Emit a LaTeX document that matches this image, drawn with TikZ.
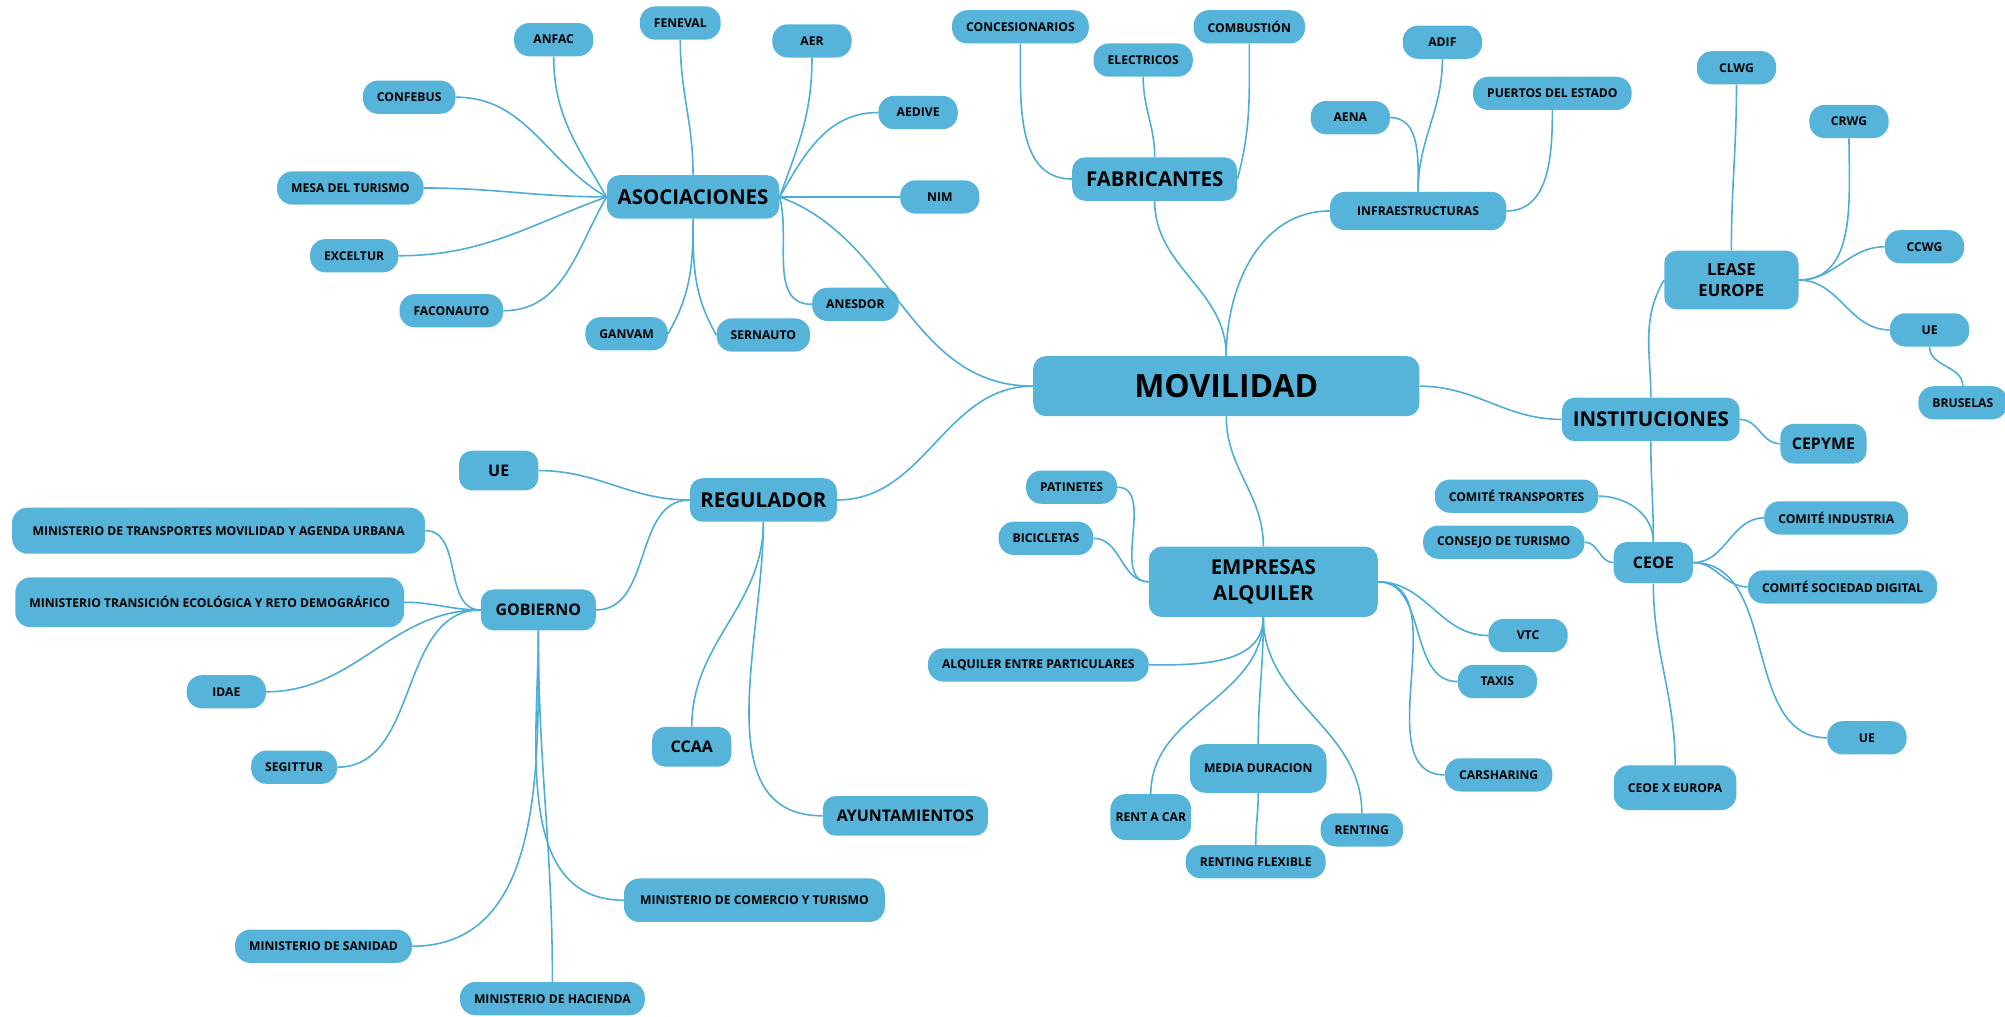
\documentclass[tikz,border=0pt]{standalone}
\usepackage{fontspec}
\setmainfont{Open Sans}
\usetikzlibrary{positioning}
\definecolor{mmfill}{RGB}{86,180,218}
\definecolor{mmline}{RGB}{78,173,214}
\tikzset{
  box/.style = {fill=mmfill, text=black, align=center, inner ysep=0, rounded corners=10},
  hub/.style = {box, font=\fontsize{25}{28}\selectfont\bfseries, minimum width=302, minimum height=47},
  branch/.style = {box, font=\fontsize{16}{20}\selectfont\bfseries, minimum height=34, inner xsep=8},
  sub/.style = {box, font=\fontsize{12.5}{16}\selectfont\bfseries, minimum height=31, minimum width=62, inner xsep=9},
  leaf/.style = {box, font=\fontsize{9.5}{11}\selectfont\bfseries, minimum height=26, minimum width=62, inner xsep=11, rounded corners=12},
  link/.style = {draw=mmline, line width=1.25}
}

\begin{document}
\begin{tikzpicture}[x=1pt, y=1pt]
  \useasboundingbox (0,0) rectangle (1568,-794.6);

  \node [hub] (movilidad) at (959,-302) {MOVILIDAD};
  \node [branch, minimum width=135] (asoc) at (542,-154) {ASOCIACIONES};
  \node [branch, minimum width=129] (fab) at (903,-140) {FABRICANTES};
  \node [leaf, minimum width=138, minimum height=30] (infra) at (1109,-165) {INFRAESTRUCTURAS};
  \node [branch, minimum width=139] (inst) at (1291,-328) {INSTITUCIONES};
  \node [branch, minimum width=115] (reg) at (597,-391) {REGULADOR};
  \node [branch, minimum width=179, minimum height=55] (emp) at (988,-455) {EMPRESAS\\ALQUILER};
  \node [sub, font=\fontsize{13}{16}\selectfont\bfseries, minimum width=105, minimum height=46] (lease) at (1354,-219) {LEASE\\EUROPE};
  \node [sub, minimum width=66] (cepyme) at (1426,-347) {CEPYME};
  \node [sub, minimum height=32] (ceoe) at (1293,-440) {CEOE};
  \node [sub] (ue1) at (390,-368) {UE};
  \node [sub, minimum width=90, minimum height=32] (gob) at (421,-477) {GOBIERNO};
  \node [sub] (ccaa) at (541,-584) {CCAA};
  \node [sub, minimum width=129] (ayunt) at (708,-638) {AYUNTAMIENTOS};

  \foreach \n/\x/\y/\t in {anfac/433/-31/ANFAC, feneval/532/-18/FENEVAL, aer/635/-32/AER,
      confebus/320/-76/CONFEBUS, aedive/718/-88/AEDIVE, mesa/274/-147/MESA DEL TURISMO,
      nim/735/-154/NIM, exceltur/277/-200/EXCELTUR, faconauto/353/-243/FACONAUTO,
      anesdor/669/-238/ANESDOR, ganvam/490/-261/GANVAM, sernauto/597/-262/SERNAUTO,
      conces/798/-21/CONCESIONARIOS, elec/894/-47/ELECTRICOS, comb/977/-21/COMBUSTIÓN,
      adif/1128/-33/ADIF, aena/1056/-92/AENA, puertos/1214/-73/PUERTOS DEL ESTADO,
      clwg/1358/-53/CLWG, crwg/1446/-95/CRWG, ccwg/1505/-193/CCWG, ue2/1509/-258/UE,
      bruselas/1535/-315/BRUSELAS,
      ctrans/1186/-388/COMITÉ TRANSPORTES, cturis/1176/-424/CONSEJO DE TURISMO,
      cind/1436/-405/COMITÉ INDUSTRIA, csoc/1441/-459/COMITÉ SOCIEDAD DIGITAL, ue3/1460/-577/UE,
      patin/838/-381/PATINETES, bici/818/-421/BICICLETAS, partic/812/-520/ALQUILER ENTRE PARTICULARES,
      vtc/1195/-497/VTC, taxis/1171/-533/TAXIS, carsh/1172/-606/CARSHARING,
      renting/1065/-649/RENTING, rflex/982/-674/RENTING FLEXIBLE,
      idae/177/-541/IDAE, segittur/230/-600/SEGITTUR, sanidad/253/-740/MINISTERIO DE SANIDAD,
      hacienda/432/-781/MINISTERIO DE HACIENDA} {
    \node [leaf] (\n) at (\x,\y) {\t};
  }
  \node [leaf, minimum height=35, minimum width=93] (ceoeeu) at (1310,-616) {CEOE X EUROPA};
  \node [leaf, minimum height=38, minimum width=105] (media) at (984,-601) {MEDIA DURACION};
  \node [leaf, minimum height=36, inner xsep=4] (rentacar) at (900,-639) {RENT A CAR};
  \node [leaf, minimum height=36, minimum width=323] (mtrans) at (171,-415) {MINISTERIO DE TRANSPORTES MOVILIDAD Y AGENDA URBANA};
  \node [leaf, minimum height=39, minimum width=303] (mtrec) at (164,-471) {MINISTERIO TRANSICIÓN ECOLÓGICA Y RETO DEMOGRÁFICO};
  \node [leaf, minimum height=34, minimum width=204] (mcom) at (590,-704) {MINISTERIO DE COMERCIO Y TURISMO};

  \foreach \p/\c/\o/\i in {movilidad.west/asoc.east/180/-20, movilidad.west/reg.east/180/0,
      movilidad.north/fab.south/90/-90, movilidad.north/infra.west/90/180,
      movilidad.east/inst.west/0/180, movilidad.south/emp.north/-90/90,
      asoc.west/anfac.south/120/-90, asoc.north/feneval.south/90/-90, asoc.east/aer.south/70/-90,
      asoc.west/confebus.east/150/0, asoc.east/aedive.west/60/180, asoc.west/mesa.east/180/0,
      asoc.east/nim.west/0/180, asoc.west/exceltur.east/200/0, asoc.west/faconauto.east/240/0,
      asoc.east/anesdor.west/-75/180, asoc.south/ganvam.east/-90/60, asoc.south/sernauto.west/-90/120,
      fab.west/conces.south/180/-90, fab.north/elec.south/90/-90, fab.east/comb.south/75/-90,
      infra.north/aena.east/90/0, infra.north/adif.south/90/-90, infra.east/puertos.south/0/-90,
      inst.north/lease.west/90/-120, inst.east/cepyme.west/0/180, inst.south/ceoe.north/-90/90,
      lease.north/clwg.south/90/-90, lease.east/crwg.south/0/-90, lease.east/ccwg.west/0/180,
      lease.east/ue2.west/0/180, ue2.south/bruselas.north/-90/90,
      ceoe.north/ctrans.east/90/0, ceoe.west/cturis.east/180/0, ceoe.east/cind.west/0/180,
      ceoe.east/csoc.west/0/180, ceoe.east/ue3.west/0/180, ceoe.south/ceoeeu.north/-90/90,
      emp.west/patin.east/180/0, emp.west/bici.east/180/0, emp.south/partic.east/-90/0,
      emp.east/vtc.west/0/180, emp.east/taxis.west/0/180, emp.east/carsh.west/0/180,
      emp.south/media.north/-90/90, emp.south/rentacar.north/-90/90, emp.south/renting.north/-90/90,
      media.south/rflex.north/-90/90,
      reg.west/ue1.east/180/0, reg.west/gob.east/180/0, reg.south/ccaa.north/-90/90,
      reg.south/ayunt.west/-90/180,
      gob.west/mtrans.east/180/0, gob.west/mtrec.east/180/0, gob.west/idae.east/180/0,
      gob.west/segittur.east/180/0, gob.south/mcom.west/-90/180, gob.south/sanidad.east/-90/0,
      gob.south/hacienda.north/-90/90} {
    \draw [link] (\p) to[out=\o, in=\i] (\c);
  }
\end{tikzpicture}
\end{document}
